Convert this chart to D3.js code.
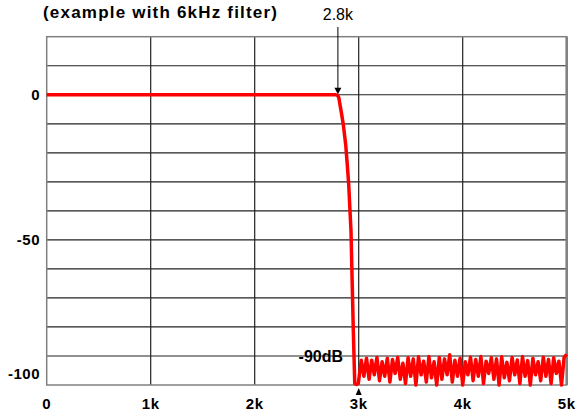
<!DOCTYPE html>
<html>
<script src='https://d3js.org/d3.v7.min.js'></script>
<style>
 body {margin: 0; background: white;}
 text {font-family: 'Liberation Sans', Arial, sans-serif; fill: black;}
 .tick {font-size: 15px; font-weight: bold; letter-spacing: 0.5px;}
</style>
<body onload='init()'>
<svg width=578 height=414>
</svg>
<script>
// kHz values and dB levels of the filter response
var freqKHz = [0, 2.78, 2.80, 2.81, 2.82, 2.835, 2.852, 2.875, 2.89, 2.904, 2.926, 2.933, 2.948, 2.962, 2.98, 2.996,
 3.025, 3.05, 3.075, 3.1, 3.125, 3.15, 3.175, 3.2, 3.225, 3.25,
 3.275, 3.3, 3.325, 3.35, 3.375, 3.4, 3.425, 3.45, 3.475, 3.5,
 3.525, 3.55, 3.575, 3.6, 3.625, 3.65, 3.675, 3.7, 3.725, 3.75,
 3.775, 3.8, 3.825, 3.85, 3.875, 3.9, 3.925, 3.95, 3.975, 4.0,
 4.025, 4.05, 4.075, 4.1, 4.125, 4.15, 4.175, 4.2, 4.225, 4.25,
 4.275, 4.3, 4.325, 4.35, 4.375, 4.4, 4.425, 4.45, 4.475, 4.5,
 4.525, 4.55, 4.575, 4.6, 4.625, 4.65, 4.675, 4.7, 4.725, 4.75,
 4.775, 4.8, 4.825, 4.85, 4.875, 4.9, 4.925, 4.95, 4.975, 5.0];
var levelDb = [0, 0, -0.3, -1.2, -3.4, -6.5, -10.3, -17.2, -24, -31, -47, -58, -81, -99.5, -99.8, -99.5,
 -91.5, -97, -90.8, -98, -91.5, -96.5, -90.5, -98.5, -92, -97,
 -90.8, -99, -91.2, -96, -90.5, -98, -92.5, -99.5, -90.6, -97,
 -91, -100, -90.3, -96.5, -91.8, -99, -90.2, -97.5, -92, -100,
 -90.5, -98, -91, -96.5, -89.6, -99, -91.5, -97, -90.8, -100,
 -92, -96.5, -90.4, -98.5, -91.2, -97, -90.2, -99.5, -91.8, -96,
 -90.6, -98, -91, -100, -90.3, -97.5, -92.2, -98.5, -90.5, -96.5,
 -91.4, -99.5, -90.2, -97, -91.6, -100, -90.8, -96.5, -92, -98.5,
 -90.4, -97, -91.2, -99.5, -90.6, -96, -91.8, -100, -90.5, -89.4];
var xTicks = [0, 1, 2, 3, 4, 5];
var xTickLabels = ['0', '1k', '2k', '3k', '4k', '5k'];
var yGrid = [20, 10, 0, -10, -20, -30, -40, -50, -60, -70, -80, -90, -100];
var yTicks = [0, -50, -100];
var yTickLabels = ['0', '-50', '-100'];
var cutoffKHz = 2.8, stopKHz = 3, floorDb = -90;

function init() {
 var svg = d3.select('svg');
 var x = d3.scaleLinear().domain([0, 5]).range([46.7, 566.7]);
 var y = d3.scaleLinear().domain([-100, 20]).range([385, 36.7]);

 // grid
 svg.append('g').selectAll('line').data(yGrid.slice(1, -1)).enter().append('line')
  .attr('x1', x(0)).attr('x2', x(5))
  .attr('y1', function (d) { return y(d); }).attr('y2', function (d) { return y(d); })
  .attr('stroke', '#222').attr('stroke-width', 1.2);
 svg.append('g').selectAll('line').data(xTicks.slice(1, -1)).enter().append('line')
  .attr('x1', function (d) { return x(d); }).attr('x2', function (d) { return x(d); })
  .attr('y1', y(20)).attr('y2', y(-100))
  .attr('stroke', '#222').attr('stroke-width', 1.2);
 // frame
 svg.append('rect')
  .attr('x', x(0)).attr('y', y(20))
  .attr('width', x(5) - x(0)).attr('height', y(-100) - y(20))
  .attr('fill', 'none').attr('stroke', '#808080').attr('stroke-width', 1.5);
 svg.append('line')
  .attr('x1', x(5)).attr('x2', x(5)).attr('y1', y(20)).attr('y2', y(-100))
  .attr('stroke', '#808080').attr('stroke-width', 2.5);

 // axis labels
 svg.append('g').selectAll('text').data(xTicks).enter().append('text')
  .attr('class', 'tick')
  .attr('x', function (d) { return x(d); }).attr('y', 409)
  .attr('text-anchor', 'middle')
  .text(function (d, i) { return xTickLabels[i]; });
 svg.append('g').selectAll('text').data(yTicks).enter().append('text')
  .attr('class', 'tick')
  .attr('x', 40)
  .attr('y', function (d) { return d == -100 ? y(d) - 6 : y(d) + 5; })
  .attr('text-anchor', 'end')
  .text(function (d, i) { return yTickLabels[i]; });

 // response curve
 var line = d3.line()
  .x(function (d) { return x(d[0]); })
  .y(function (d) { return y(d[1]); });
 svg.append('path')
  .datum(d3.zip(freqKHz, levelDb))
  .attr('d', line)
  .attr('fill', 'none').attr('stroke', '#ff0000')
  .attr('stroke-width', 3.5).attr('stroke-linejoin', 'round');

 // annotations
 svg.append('text')
  .attr('x', 43).attr('y', 18)
  .attr('font-size', 17).attr('font-weight', 'bold')
  .attr('textLength', 234).attr('lengthAdjust', 'spacing')
  .text('(example with 6kHz filter)');
 svg.append('text')
  .attr('x', x(cutoffKHz)).attr('y', 20)
  .attr('text-anchor', 'middle').attr('font-size', 16)
  .text('2.8k');
 svg.append('line')
  .attr('x1', x(cutoffKHz)).attr('x2', x(cutoffKHz))
  .attr('y1', 27).attr('y2', y(0) - 5)
  .attr('stroke', 'black').attr('stroke-width', 1);
 svg.append('path')
  .attr('d', 'M' + (x(cutoffKHz) - 3.5) + ',' + (y(0) - 7) + 'L' + (x(cutoffKHz) + 3.5) + ',' + (y(0) - 7) + 'L' + x(cutoffKHz) + ',' + (y(0) - 0.5) + 'Z')
  .attr('fill', 'black');
 svg.append('path')
  .attr('d', 'M' + (x(stopKHz) - 3) + ',' + (y(-100) + 10) + 'L' + (x(stopKHz) + 3) + ',' + (y(-100) + 10) + 'L' + x(stopKHz) + ',' + (y(-100) + 3) + 'Z')
  .attr('fill', 'black');
 svg.append('text')
  .attr('x', 343).attr('y', y(floorDb) + 6)
  .attr('text-anchor', 'end').attr('font-size', 16).attr('font-weight', 'bold')
  .text('-90dB');
}
</script>
</body>
</html>
